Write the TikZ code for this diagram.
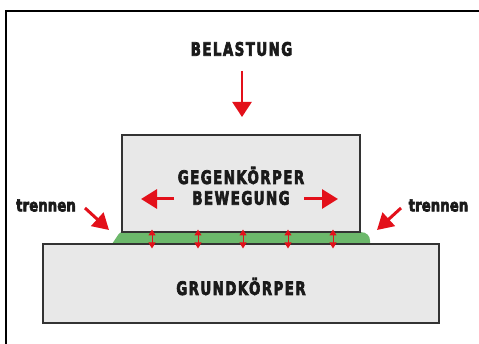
\documentclass[tikz,border=0pt]{standalone}
\usepackage{graphicx}
\usepackage{fontspec}
\newfontfamily\condb[LetterSpace=10,FakeBold=4]{DejaVu Sans Condensed}[BoldFont={* Bold}]
\newfontfamily\condt[LetterSpace=1,FakeBold=4]{DejaVu Sans Condensed}[BoldFont={* Bold}]
\newcommand\captxt[1]{\scalebox{0.8}[1]{\condb\bfseries\fontsize{18.5}{19}\selectfont #1}}
\newcommand\smalltxt[1]{\scalebox{0.86}[1]{\condt\bfseries\fontsize{17}{18}\selectfont #1}}
\usetikzlibrary{arrows.meta}
\definecolor{boxfill}{HTML}{E8E8E8}
\definecolor{boxline}{HTML}{333333}
\definecolor{redarrow}{HTML}{E3101A}
\definecolor{greenlayer}{HTML}{6CB86B}
\definecolor{txt}{HTML}{1A1A1A}
\tikzset{
  body/.style={draw=boxline, line width=1.4pt, fill=boxfill},
  label/.style={text=txt, inner sep=0pt},
  bigarrow/.style={draw=redarrow, line width=2.4pt, -{Triangle[length=15pt,width=19pt]}},
  movearrow/.style={draw=redarrow, line width=3pt, -{Triangle[length=16pt,width=19pt]}},
  sidearrow/.style={draw=redarrow, line width=3pt, -{Triangle[length=16pt,width=18pt]}},
  gaparrow/.style={draw=redarrow, line width=1pt, {Triangle[length=6pt,width=7pt]}-{Triangle[length=6pt,width=7pt]}}
}
\begin{document}
\begin{tikzpicture}[x=1pt,y=-1pt]
\useasboundingbox (0,0) rectangle (479,344);
\clip (0,0) rectangle (479,344);
\fill[white] (0,0) rectangle (479,344);
\draw[line width=2pt, black] (6,11) rectangle (490,360);
% green layer
\fill[greenlayer] (112,244) -- (118,235) .. controls (119.5,232.5) and (121,232) .. (124,232) -- (360,232) .. controls (367,232) and (370,236) .. (370,241) -- (370,244) -- cycle;
% bodies
\node[body, minimum width=396pt, minimum height=79pt, inner sep=0pt] (grund) at (241,283.5) {};
\node[body, minimum width=238pt, minimum height=97pt, inner sep=0pt] (gegen) at (241,183.5) {};
\node[label] (grundtxt) at (241,286.5) {\captxt{GRUNDKÖRPER}};
\node[label] (gegentxt) at (241,175.5) {\captxt{GEGENKÖRPER}};
\node[label] (bewtxt) at (241,198) {\captxt{BEWEGUNG}};
\node[label] (last) at (241.5,49) {\captxt{BELASTUNG}};
% load arrow
\coordinate (la0) at (242,71);
\coordinate (la1) at (242,117);
\draw[bigarrow] (la0) -- (la1);
% movement arrows
\coordinate (ml0) at (174,199);
\coordinate (ml1) at (141,199);
\coordinate (mr0) at (304,199);
\coordinate (mr1) at (338,199);
\draw[movearrow] (ml0) -- (ml1);
\draw[movearrow] (mr0) -- (mr1);
% trennen
\node[label] (tl) at (46,205.5) {\smalltxt{trennen}};
\node[label] (tr) at (438.5,205.5) {\smalltxt{trennen}};
\coordinate (sl0) at (85,208);
\coordinate (sl1) at (109,230);
\coordinate (sr0) at (401,208);
\coordinate (sr1) at (377,230);
\draw[sidearrow] (sl0) -- (sl1);
\draw[sidearrow] (sr0) -- (sr1);
% gap arrows
\foreach \xx [count=\i] in {152,198,243,288,333}{
  \coordinate (g\i a) at (\xx,229.5);
  \coordinate (g\i b) at (\xx,248.5);
  \draw[gaparrow] (g\i a) -- (g\i b);
}
\end{tikzpicture}
\end{document}
